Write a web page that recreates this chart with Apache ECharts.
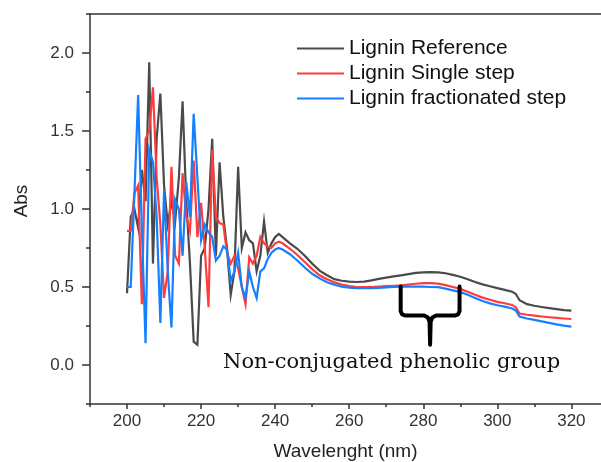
<!DOCTYPE html>
<html>
<head>
<meta charset="utf-8">
<script src="https://cdn.jsdelivr.net/npm/echarts@6/dist/echarts.min.js"></script>
<style>html,body{margin:0;padding:0;background:#fff;}#c{width:601px;height:462px;}</style>
</head>
<body>
<div id="c"></div>
<script>
const seriesNames = ['Lignin Reference', 'Lignin Single step', 'Lignin fractionated step'];
const wavelength = [200,201,202,203,204,205,206,207,208,209,210,211,212,213,214,215,216,217,218,219,220,221,222,223,224,225,226,227,228,229,230,231,232,233,234,235,236,237,238,239,240,241,
  242,244,246,248,250,252,254,256,258,260,262,264,266,268,270,272,274,276,278,280,282,284,286,288,290,292,294,296,298,300,302,304,
  305,306,308,310,312,314,316,318,320];
const ligninReference = [0.46,0.95,1.0,0.88,1.25,1.05,1.94,0.65,1.45,1.74,1.15,0.9,1.05,0.92,1.2,1.69,1.05,0.65,0.15,0.13,0.7,0.75,1.0,1.45,0.7,1.3,0.95,0.75,0.45,0.6,1.27,0.75,0.85,0.8,0.78,0.6,0.7,0.92,0.72,0.78,0.82,0.84,
  0.82,0.78,0.745,0.70,0.65,0.605,0.575,0.55,0.54,0.535,0.532,0.535,0.542,0.552,0.56,0.568,0.575,0.583,0.59,0.594,0.595,0.594,0.588,0.578,0.566,0.55,0.532,0.517,0.505,0.493,0.482,0.47,
  0.455,0.415,0.39,0.38,0.372,0.365,0.358,0.352,0.348];
const ligninSingle = [0.86,0.86,1.1,1.15,0.39,1.45,1.5,1.78,1.2,0.9,0.43,0.6,1.27,0.7,0.65,1.23,0.95,0.86,1.31,0.82,1.04,0.75,0.37,1.38,0.95,0.91,0.9,0.72,0.65,0.7,0.62,0.5,0.39,0.69,0.65,0.7,0.82,0.78,0.76,0.75,0.78,0.79,
  0.78,0.745,0.705,0.66,0.615,0.575,0.55,0.53,0.515,0.506,0.5,0.499,0.5,0.502,0.505,0.508,0.51,0.515,0.521,0.525,0.525,0.522,0.512,0.5,0.488,0.47,0.45,0.432,0.418,0.405,0.396,0.385,
  0.37,0.33,0.322,0.316,0.311,0.306,0.302,0.298,0.295];
const ligninFractionated = [0.5,0.5,1.1,1.73,0.88,0.14,1.38,1.3,0.95,0.27,1.12,0.6,0.24,1.06,1.0,0.7,1.17,0.95,1.61,1.2,0.8,0.9,0.85,0.82,0.67,0.7,0.76,0.74,0.54,0.6,0.72,0.5,0.43,0.6,0.5,0.43,0.6,0.62,0.68,0.72,0.74,0.75,
  0.74,0.71,0.67,0.625,0.585,0.555,0.53,0.515,0.502,0.496,0.493,0.492,0.493,0.495,0.497,0.5,0.503,0.503,0.503,0.502,0.5,0.499,0.49,0.478,0.467,0.45,0.43,0.41,0.395,0.383,0.374,0.362,
  0.35,0.31,0.298,0.289,0.28,0.27,0.26,0.252,0.246];
const xMajorTicks = [200,220,240,260,280,300,320];
const xMinorTicks = [190,210,230,250,270,290,310];
const yMajorTicks = [0,0.5,1.0,1.5,2.0];
const yMinorTicks = [-0.25,0.25,0.75,1.25,1.75,2.25];
const annotationText = 'Non-conjugated phenolic group';
// bracket marks the 274–290 nm band (annotation)
const bracketFrom = 273.9, bracketTo = 289.8, bracketTop = 0.504, bracketBar = 0.317, bracketTip = 0.13;

const colors = ['#4a4a4a', '#ff3c3c', '#1480ff'];
const axisColor = '#333';
const font = 'Liberation Sans, Arial, sans-serif';

function pairs(vals){ return wavelength.map((w,i)=>[w, vals[i]]); }
const mid = (bracketFrom + bracketTo) / 2;
const bracketPts = [
  [bracketFrom, bracketTop], [bracketFrom, bracketBar + 0.028], [bracketFrom + 0.4, bracketBar + 0.008], [bracketFrom + 1.3, bracketBar],
  [mid - 1.6, bracketBar], [mid - 0.6, bracketBar - 0.012], [mid - 0.15, bracketBar - 0.04], [mid, bracketTip],
  [mid + 0.15, bracketBar - 0.04], [mid + 0.6, bracketBar - 0.012], [mid + 1.6, bracketBar],
  [bracketTo - 1.3, bracketBar], [bracketTo - 0.4, bracketBar + 0.008], [bracketTo, bracketBar + 0.028], [bracketTo, bracketTop]
];

const chart = echarts.init(document.getElementById('c'), null, {renderer:'canvas'});
const lineSeries = [ligninReference, ligninSingle, ligninFractionated].map((vals, i) => ({
  name: seriesNames[i], type:'line', data: pairs(vals), showSymbol:false, symbol:'none',
  lineStyle:{color:colors[i], width:2.2, join:'miter'}, itemStyle:{color:colors[i]}, z: 2 + i
}));
const option = {
  animation:false,
  backgroundColor:'#fff',
  grid:{left:90, top:14, right:0, bottom:58, containLabel:false, outerBoundsMode:'none'},
  legend:{data:seriesNames, orient:'vertical', left:292, top:33, icon:'rect', itemWidth:47, itemHeight:2, itemGap:4,
    textStyle:{fontSize:21, lineHeight:21, color:'#111', fontFamily:font}},
  xAxis:[
    {type:'value', min:190, max:328, position:'bottom',
      axisLine:{show:true, onZero:false, lineStyle:{color:axisColor, width:1.5}},
      axisTick:{show:true, customValues:xMajorTicks, length:5, lineStyle:{color:axisColor, width:1.5}},
      axisLabel:{customValues:xMajorTicks, margin:9, fontSize:17, color:'#333', fontFamily:font},
      splitLine:{show:false},
      name:'Wavelenght (nm)', nameLocation:'middle', nameGap:38, nameTextStyle:{fontSize:19, color:'#222', fontFamily:font}},
    {type:'value', min:190, max:328, position:'bottom',
      axisLine:{show:false, onZero:false}, axisTick:{show:true, customValues:xMinorTicks, length:3, lineStyle:{color:axisColor, width:1.5}},
      axisLabel:{show:false}, splitLine:{show:false}},
    {type:'value', min:190, max:328, position:'top',
      axisLine:{show:true, onZero:false, lineStyle:{color:axisColor, width:1.5}}, axisTick:{show:false},
      axisLabel:{show:false}, splitLine:{show:false}}
  ],
  yAxis:[
    {type:'value', min:-0.25, max:2.25, position:'left',
      axisLine:{show:true, onZero:false, lineStyle:{color:axisColor, width:1.5}},
      axisTick:{show:true, customValues:yMajorTicks, length:8, lineStyle:{color:axisColor, width:1.5}},
      axisLabel:{customValues:yMajorTicks, margin:16, fontSize:17, color:'#333', fontFamily:font, formatter:v=>v.toFixed(1)},
      splitLine:{show:false},
      name:'Abs', nameLocation:'middle', nameGap:59, nameTextStyle:{fontSize:19, color:'#222', fontFamily:font, padding:[0,0,0,16]}},
    {type:'value', min:-0.25, max:2.25, position:'left',
      axisLine:{show:false, onZero:false}, axisTick:{show:true, customValues:yMinorTicks, length:4, lineStyle:{color:axisColor, width:1.5}},
      axisLabel:{show:false}, splitLine:{show:false}}
  ],
  series: lineSeries.concat([{
    name:'bracket', type:'line', data:bracketPts, showSymbol:false, symbol:'none', silent:true,
    lineStyle:{color:'#000', width:4, join:'round', cap:'round'}, z:6
  }]),
  graphic:[{type:'text', left:223, top:352, silent:true,
    style:{text:annotationText, fontSize:21, fontFamily:'DejaVu Serif, Liberation Serif, serif', fill:'#111'}}]
};
chart.setOption(option);
</script>
</body>
</html>
